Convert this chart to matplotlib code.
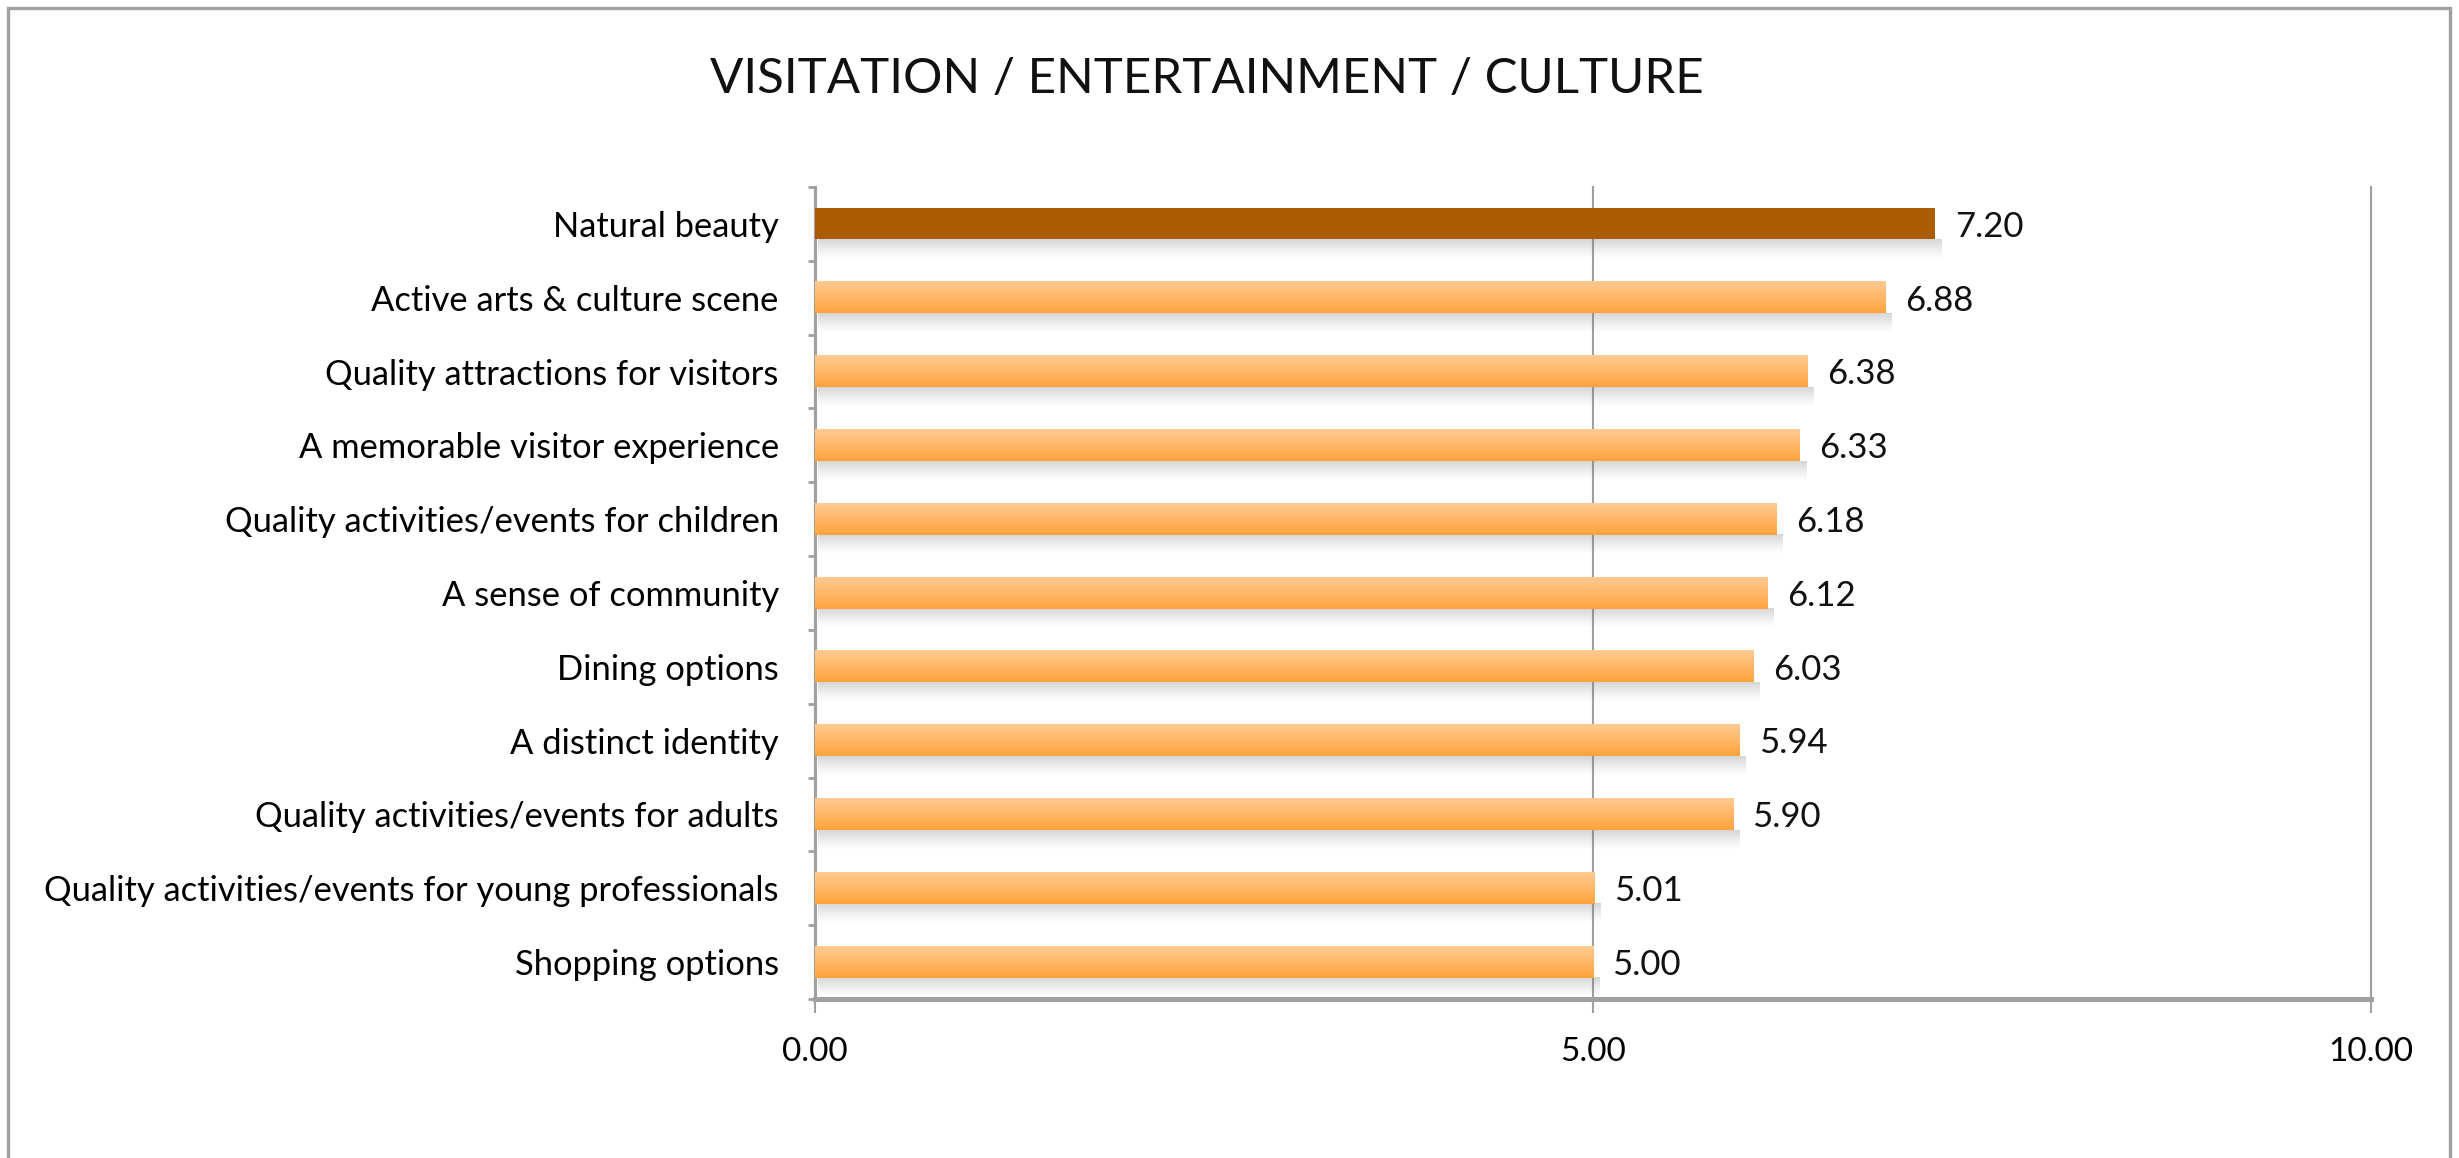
import numpy as np
import matplotlib
matplotlib.use("Agg")
import matplotlib.pyplot as plt
from matplotlib.patches import Rectangle
from matplotlib.colors import to_rgb

categories = [
    "Natural beauty",
    "Active arts & culture scene",
    "Quality attractions for visitors",
    "A memorable visitor experience",
    "Quality activities/events for children",
    "A sense of community",
    "Dining options",
    "A distinct identity",
    "Quality activities/events for adults",
    "Quality activities/events for young professionals",
    "Shopping options",
]
scores = [7.20, 6.88, 6.38, 6.33, 6.18, 6.12, 6.03, 5.94, 5.90, 5.01, 5.00]
x_ticks = [0, 5, 10]
title = "VISITATION / ENTERTAINMENT / CULTURE"

plt.rcParams["font.family"] = ["Lato", "DejaVu Sans"]
GRAY = "#a0a0a0"

fig = plt.figure(figsize=(24.59, 11.58), dpi=100)
ax = fig.add_axes([0.3314, 0.1373, 0.6328, 0.7012])

# outer chart frame (bottom edge runs off the picture)
fig.patches.append(Rectangle((0.0033, -0.02), 0.9930, 1.0131, transform=fig.transFigure,
                             fill=False, edgecolor="#a0a0a0", linewidth=2.4))

pos = np.arange(len(categories))[::-1]
bar_h = 0.42
bars = ax.barh(pos, scores, height=bar_h, color="none", edgecolor="none", zorder=3)

light = np.array(to_rgb("#ffca92"))
dark = np.array(to_rgb("#ffa43c"))
grad = np.linspace(0, 1, 64)[:, None]
orange_img = (dark + (light - dark) * grad)[:, None, :]   # bottom dark -> top light

shadow = np.zeros((32, 1, 4))
shadow[..., :3] = 0.42
shadow[:, 0, 3] = np.linspace(0, 0.38, 32) ** 1.3       # fades downward

for i, patch in enumerate(bars.patches):
    x0, y0 = patch.get_x(), patch.get_y()
    w, h = patch.get_width(), patch.get_height()
    ax.imshow(shadow, extent=[x0 + 0.02, x0 + w + 0.04, y0 - 0.28, y0],
              origin="lower", aspect="auto", zorder=2, interpolation="bilinear")
    if i == 0:
        ax.add_patch(Rectangle((x0, y0), w, h, facecolor="#ab5b00", edgecolor="none", zorder=3))
    else:
        ax.imshow(orange_img, extent=[x0, x0 + w, y0, y0 + h], origin="lower",
                  aspect="auto", zorder=3, interpolation="bilinear")
    ax.annotate(f"{scores[i]:.2f}", xy=(x0 + w, pos[i]), xytext=(14, -2),
                textcoords="offset points", va="center", ha="left", fontsize=25, color="#111111")

ax.set_xlim(0, 10)
ax.set_ylim(-0.5, len(categories) - 0.5)
ax.set_xticks(x_ticks)
ax.set_xticklabels([f"{v:.2f}" for v in x_ticks], fontsize=24)
ax.set_yticks(pos)
ax.set_yticklabels(categories, fontsize=24.8)
ax.set_yticks(np.arange(len(categories) + 1) - 0.5, minor=True)

ax.tick_params(axis="y", which="major", length=0, pad=26)
ax.tick_params(axis="y", which="minor", length=5, width=2, color=GRAY, direction="out")
ax.tick_params(axis="x", which="major", length=10, width=1.5, color=GRAY, pad=17)

ax.grid(axis="x", color=GRAY, linewidth=1.5, zorder=0)
for gl in ax.get_xgridlines():
    gl.set_clip_on(False)
ax.set_axisbelow(True)
for side in ["top", "right"]:
    ax.spines[side].set_visible(False)
ax.spines["left"].set_color(GRAY)
ax.spines["left"].set_linewidth(2.2)
ax.spines["bottom"].set_color(GRAY)
ax.spines["bottom"].set_linewidth(3.6)

fig.text(0.491, 0.932, title, ha="center", va="center", fontsize=35.5, color="#111111")

fig.savefig("out.png", dpi=100)
